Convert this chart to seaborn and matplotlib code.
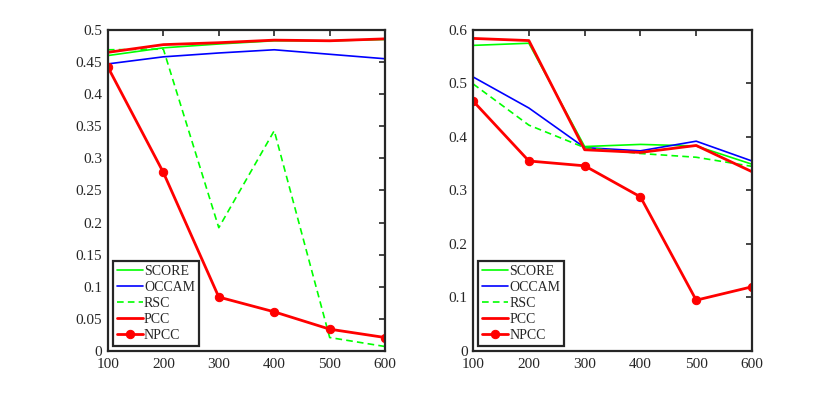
import numpy as np
import pandas as pd
import matplotlib
matplotlib.use("Agg")
import matplotlib.pyplot as plt
import seaborn as sns
from matplotlib.ticker import FuncFormatter

sns.set_style("white")
plt.rcParams['font.family'] = ['Liberation Serif', 'DejaVu Serif']
plt.rcParams['mathtext.fontset'] = 'stix'

x_vals = [100, 200, 300, 400, 500, 600]
series_names = ["SCORE", "OCCAM", "RSC", "PCC", "NPCC"]

left_score = [0.460, 0.472, 0.478, 0.483, 0.483, 0.485]
left_occam = [0.447, 0.458, 0.464, 0.469, 0.462, 0.455]
left_rsc = [0.469, 0.470, 0.192, 0.343, 0.021, 0.007]
left_pcc = [0.465, 0.477, 0.480, 0.484, 0.483, 0.486]
left_npcc = [0.442, 0.278, 0.084, 0.061, 0.034, 0.021]

right_score = [0.571, 0.575, 0.382, 0.386, 0.383, 0.349]
right_occam = [0.512, 0.454, 0.380, 0.374, 0.392, 0.355]
right_rsc = [0.499, 0.422, 0.380, 0.369, 0.362, 0.345]
right_pcc = [0.584, 0.580, 0.376, 0.371, 0.384, 0.335]
right_npcc = [0.467, 0.355, 0.346, 0.288, 0.095, 0.120]

left_yticks = [0, 0.05, 0.1, 0.15, 0.2, 0.25, 0.3, 0.35, 0.4, 0.45, 0.5]
right_yticks = [0, 0.1, 0.2, 0.3, 0.4, 0.5, 0.6]

styles = {
    "SCORE": dict(color="#00ff00", lw=1.2, ls="-", marker=None),
    "OCCAM": dict(color="#0000ff", lw=1.2, ls="-", marker=None),
    "RSC": dict(color="#00ff00", lw=1.2, ls=(0, (4, 2.5)), marker=None),
    "PCC": dict(color="#ff0000", lw=2.0, ls="-", marker=None),
    "NPCC": dict(color="#ff0000", lw=2.0, ls="-", marker="o"),
}

fig = plt.figure(figsize=(8.3, 3.96), dpi=100)
ax1 = fig.add_axes([0.130, 0.1136, 0.334, 0.811])
ax2 = fig.add_axes([0.570, 0.1136, 0.336, 0.811])

panels = [
    (ax1, [left_score, left_occam, left_rsc, left_pcc, left_npcc], 0.5, left_yticks),
    (ax2, [right_score, right_occam, right_rsc, right_pcc, right_npcc], 0.6, right_yticks),
]

for ax, data, ymax, yt in panels:
    for name, vals in zip(series_names, data):
        st = styles[name]
        df = pd.DataFrame({"x": x_vals, "y": vals})
        sns.lineplot(data=df, x="x", y="y", ax=ax, color=st["color"], linewidth=st["lw"],
                     linestyle=st["ls"], marker=st["marker"], markersize=6,
                     markeredgecolor=st["color"], label=name)
    ax.set_xlim(100, 600)
    ax.set_ylim(0, ymax)
    ax.set_xticks(x_vals)
    ax.set_yticks(yt)
    ax.yaxis.set_major_formatter(FuncFormatter(lambda v, p: f"{v:g}"))
    ax.set_xlabel("")
    ax.set_ylabel("")
    ax.tick_params(direction="in", length=4, width=1.2, top=True, right=True,
                   labelsize=11, colors="#262626")
    ax.tick_params(axis="x", pad=5)
    ax.tick_params(axis="y", pad=4)
    for sp in ax.spines.values():
        sp.set_linewidth(1.6)
        sp.set_color("#262626")
    leg = ax.legend(loc="lower left", fontsize=10, frameon=True, fancybox=False,
                    framealpha=1, edgecolor="#262626", borderaxespad=0.35,
                    handlelength=1.85, handletextpad=0.1, labelspacing=0.22,
                    borderpad=0.3)
    leg.get_frame().set_linewidth(1.6)

fig.savefig("out.png", dpi=100)
